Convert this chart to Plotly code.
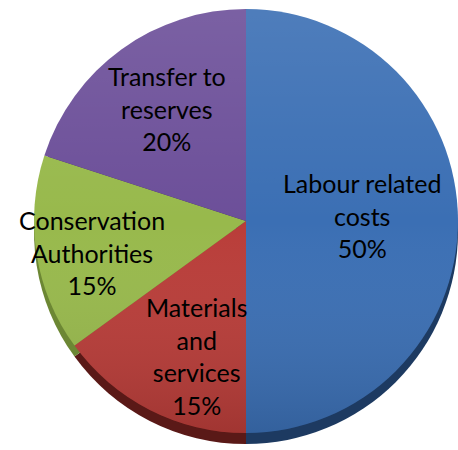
import math
import base64
import plotly.graph_objects as go

# Budget breakdown
labels = ["Labour related costs", "Materials and services",
          "Conservation Authorities", "Transfer to reserves"]
label_text = ["Labour related<br>costs", "Materials<br>and<br>services",
              "Conservation<br>Authorities", "Transfer to<br>reserves"]
shares = [50, 15, 15, 20]

face_colors = ["#3B6FB4", "#B93D39", "#98B94C", "#6C4F99"]
side_colors = ["#1D3A61", "#5A1917", "#6C8734", "#3E2C5E"]

W, H = 458, 450
RADIUS = 212                 # px
CX, CY = 246, 221            # pie centre, px from top-left
DEPTH = 11                   # px of the visible rim below the face

def dom(cx, cy, r):
    return dict(x=[max(0, (cx - r) / W), min(1, (cx + r) / W)],
                y=[1 - (cy + r) / H, 1 - (cy - r) / H])

fig = go.Figure()

# rim (a darker copy of the pie shifted downward)
fig.add_trace(go.Pie(
    labels=labels, values=shares, sort=False, direction="clockwise",
    rotation=0, textinfo="none", hoverinfo="skip", showlegend=False,
    marker=dict(colors=side_colors, line=dict(width=0)),
    domain=dom(CX, CY + DEPTH, RADIUS),
))

# top face
fig.add_trace(go.Pie(
    labels=labels, values=shares, sort=False, direction="clockwise",
    rotation=0, textinfo="none", hoverinfo="label+percent", showlegend=False,
    marker=dict(colors=face_colors, line=dict(width=0)),
    domain=dom(CX, CY, RADIUS),
))

# soft top-to-bottom shading laid over the pie face
shade_svg = f"""<svg xmlns='http://www.w3.org/2000/svg' width='{W}' height='{H}' viewBox='0 0 {W} {H}'>
<defs><linearGradient id='g' x1='0' y1='0' x2='0' y2='1'>
<stop offset='0' stop-color='#ffffff' stop-opacity='0.10'/>
<stop offset='0.5' stop-color='#ffffff' stop-opacity='0'/>
<stop offset='1' stop-color='#000000' stop-opacity='0.13'/>
</linearGradient></defs>
<circle cx='{CX}' cy='{CY}' r='{RADIUS}' fill='url(#g)'/>
</svg>"""
shade_uri = "data:image/svg+xml;base64," + base64.b64encode(shade_svg.encode()).decode()

# label placement: mid-angle of each slice plus a small nudge, at a radial fraction
angle_nudge = [-2.5, -7.0, -2.5, 0.8]
radial_frac = [0.55, 0.68, 0.74, 0.65]

total = sum(shares)
start = 0.0
annotations = []
for i, v in enumerate(shares):
    span = 360.0 * v / total
    mid = start + span / 2 + angle_nudge[i]
    start += span
    r = RADIUS * radial_frac[i]
    px = CX + r * math.sin(math.radians(mid))
    py = CY - r * math.cos(math.radians(mid))
    annotations.append(dict(
        x=px / W, y=1 - py / H, xref="paper", yref="paper",
        text=f"{label_text[i]}<br>{v}%", showarrow=False,
        xanchor="center", yanchor="middle", align="center",
        font=dict(family="Lato, 'Open Sans', sans-serif", size=25, color="#000000"),
    ))

fig.update_layout(
    width=W, height=H,
    margin=dict(l=0, r=0, t=0, b=0),
    paper_bgcolor="white", plot_bgcolor="white",
    annotations=annotations,
    images=[dict(source=shade_uri, xref="paper", yref="paper",
                 x=0, y=1, sizex=1, sizey=1, sizing="stretch",
                 xanchor="left", yanchor="top", layer="above")],
)

fig.write_html("out.html")
